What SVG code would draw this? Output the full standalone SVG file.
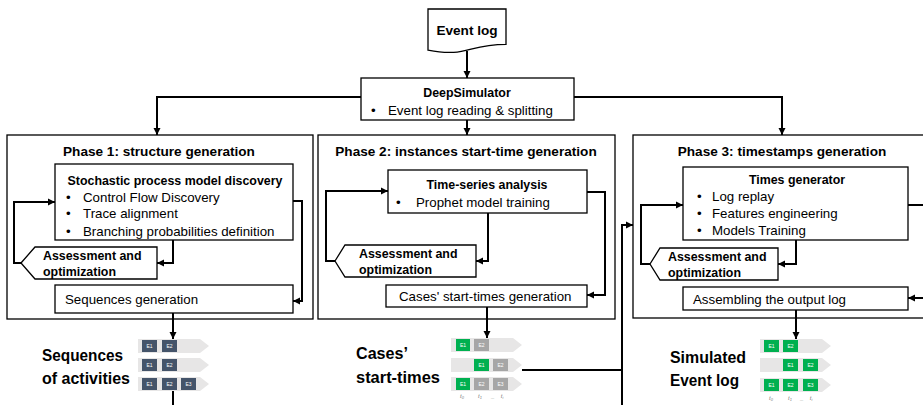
<svg xmlns="http://www.w3.org/2000/svg" xmlns:xlink="http://www.w3.org/1999/xlink" width="923" height="405" viewBox="0 0 923 405">
  <style>
    text { font-family: "Liberation Sans", Arial, sans-serif; fill: #000; }
    .box { fill: #fff; stroke: #000; stroke-width: 1.3; }
    .wire { fill: none; stroke: #000; stroke-width: 2; }
    .arr { marker-end: url(#ah); }
    .h1 { font-weight: bold; font-size: 13.6px; }
    .h2 { font-weight: bold; font-size: 12.4px; }
    .r { font-size: 13.3px; }
    .big { font-weight: bold; font-size: 17px; }
    .mid { text-anchor: middle; }
    .ev { font-size: 5px; fill: #fff; text-anchor: middle; }
    .tk { font-size: 6px; font-style: italic; fill: #7f7f7f; text-anchor: middle; }
    .bar { fill: #e7e6e6; }
    .blue { fill: #44546a; }
    .green { fill: #00b050; }
    .grey { fill: #a6a6a6; }
  </style>
  <defs>
    <marker id="ah" viewBox="0 0 10 10" refX="10" refY="5" markerWidth="3.6" markerHeight="3.6" orient="auto">
      <path d="M0,0L10,5L0,10Z" fill="#000"/>
    </marker>
    <path id="barshape" d="M0,0H62L71,7L62,14H0Z"/>
  </defs>

  <!-- input log -->
  <g id="event-log">
    <path class="box" d="M428,9H506V44.3C467,44.3 467,57.7 428,50.1Z"/>
    <text class="h1 mid" x="467" y="35">Event log</text>
  </g>

  <!-- orchestrator -->
  <g id="deepsimulator">
    <rect class="box" x="361" y="78" width="213" height="42"/>
    <text class="h2 mid" x="467" y="97">DeepSimulator</text>
    <text class="r" x="371" y="115">•</text>
    <text class="r" x="388" y="115">Event log reading &amp; splitting</text>
  </g>

  <!-- phase 1 -->
  <g id="phase1">
    <rect class="box" x="7" y="135" width="306" height="184"/>
    <text class="h1 mid" x="159" y="156">Phase 1: structure generation</text>
  </g>
  <g id="p1-discovery">
    <rect class="box" x="55" y="164" width="238" height="76"/>
    <text class="h2 mid" x="175" y="185">Stochastic process model discovery</text>
    <text class="r" x="66" y="202">•</text>
    <text class="r" x="83" y="202">Control Flow Discovery</text>
    <text class="r" x="66" y="218">•</text>
    <text class="r" x="83" y="218">Trace alignment</text>
    <text class="r" x="66" y="236">•</text>
    <text class="r" x="83" y="236">Branching probabilities definition</text>
  </g>
  <g id="p1-assessment">
    <path class="box" d="M21,263L35,247H157V279H35Z"/>
    <text class="h2" x="43" y="260">Assessment and</text>
    <text class="h2" x="43" y="276">optimization</text>
  </g>
  <g id="p1-sequences">
    <rect class="box" x="55" y="285" width="238" height="28"/>
    <text class="r" x="65" y="304">Sequences generation</text>
  </g>

  <!-- phase 2 -->
  <g id="phase2">
    <rect class="box" x="318" y="135" width="297" height="184"/>
    <text class="h1 mid" x="466" y="156">Phase 2: instances start-time generation</text>
  </g>
  <g id="p2-timeseries">
    <rect class="box" x="388" y="170" width="199" height="43"/>
    <text class="h2 mid" x="487" y="189">Time-series analysis</text>
    <text class="r" x="396" y="207">•</text>
    <text class="r" x="416" y="207">Prophet model training</text>
  </g>
  <g id="p2-assessment">
    <path class="box" d="M335,261L345,245H476V277H345Z"/>
    <text class="h2" x="359" y="258">Assessment and</text>
    <text class="h2" x="359" y="274">optimization</text>
  </g>
  <g id="p2-starttimes">
    <rect class="box" x="386" y="285" width="201" height="22"/>
    <text class="r" x="399" y="301">Cases' start-times generation</text>
  </g>

  <!-- phase 3 -->
  <g id="phase3">
    <rect class="box" x="633" y="135" width="300" height="183"/>
    <text class="h1 mid" x="782" y="156">Phase 3: timestamps generation</text>
  </g>
  <g id="p3-times">
    <rect class="box" x="683" y="167" width="225" height="73"/>
    <text class="h2 mid" x="797" y="184">Times generator</text>
    <text class="r" x="697" y="201">•</text>
    <text class="r" x="712" y="201">Log replay</text>
    <text class="r" x="697" y="218">•</text>
    <text class="r" x="712" y="218">Features engineering</text>
    <text class="r" x="697" y="235">•</text>
    <text class="r" x="712" y="235">Models Training</text>
  </g>
  <g id="p3-assessment">
    <path class="box" d="M650,264L660,248H778V280H660Z"/>
    <text class="h2" x="668" y="261">Assessment and</text>
    <text class="h2" x="668" y="277">optimization</text>
  </g>
  <g id="p3-assembling">
    <rect class="box" x="683" y="287" width="225" height="23"/>
    <text class="r" x="693" y="304">Assembling the output log</text>
  </g>

  <!-- sequences of activities -->
  <g id="out-sequences">
    <text class="big" x="42" y="361" textLength="81" lengthAdjust="spacingAndGlyphs">Sequences</text>
    <text class="big" x="42" y="384" textLength="88" lengthAdjust="spacingAndGlyphs">of activities</text>
    <use xlink:href="#barshape" class="bar" x="138" y="339"/>
    <use xlink:href="#barshape" class="bar" x="138" y="358"/>
    <use xlink:href="#barshape" class="bar" x="138" y="377"/>
    <rect class="blue" x="142" y="340" width="15" height="12"/><text class="ev" x="149.5" y="348">E1</text>
    <rect class="blue" x="162" y="340" width="15" height="12"/><text class="ev" x="169.5" y="348">E2</text>
    <rect class="blue" x="142" y="359" width="15" height="12"/><text class="ev" x="149.5" y="367">E1</text>
    <rect class="blue" x="162" y="359" width="15" height="12"/><text class="ev" x="169.5" y="367">E2</text>
    <rect class="blue" x="142" y="378" width="15" height="12"/><text class="ev" x="149.5" y="386">E1</text>
    <rect class="blue" x="162" y="378" width="15" height="12"/><text class="ev" x="169.5" y="386">E2</text>
    <rect class="blue" x="181" y="378" width="15" height="12"/><text class="ev" x="188.5" y="386">E3</text>
  </g>

  <!-- case start times -->
  <g id="out-starttimes">
    <text class="big" x="356" y="359" textLength="52" lengthAdjust="spacingAndGlyphs">Cases’</text>
    <text class="big" x="356" y="383" textLength="84" lengthAdjust="spacingAndGlyphs">start-times</text>
    <use xlink:href="#barshape" class="bar" x="451" y="338"/>
    <use xlink:href="#barshape" class="bar" x="451" y="358"/>
    <use xlink:href="#barshape" class="bar" x="451" y="377"/>
    <rect class="green" x="456" y="339" width="14" height="12"/><text class="ev" x="463" y="347">E1</text>
    <rect class="grey" x="474" y="339" width="15" height="12"/><text class="ev" x="481.5" y="347">E2</text>
    <rect class="green" x="474" y="359" width="15" height="12"/><text class="ev" x="481.5" y="367">E1</text>
    <rect class="grey" x="493" y="359" width="15" height="12"/><text class="ev" x="500.5" y="367">E2</text>
    <rect class="green" x="456" y="378" width="14" height="12"/><text class="ev" x="463" y="386">E1</text>
    <rect class="grey" x="474" y="378" width="15" height="12"/><text class="ev" x="481.5" y="386">E2</text>
    <rect class="grey" x="493" y="378" width="15" height="12"/><text class="ev" x="500.5" y="386">E3</text>
    <text class="tk" x="462" y="398">t<tspan font-size="4" dy="1">0</tspan></text>
    <text class="tk" x="480" y="398">t<tspan font-size="4" dy="1">1</tspan></text>
    <text class="tk" x="493" y="398">_</text>
    <text class="tk" x="502" y="398">t<tspan font-size="4" dy="1">i</tspan></text>
  </g>

  <!-- simulated log -->
  <g id="out-simulated">
    <text class="big" x="670" y="363" textLength="76" lengthAdjust="spacingAndGlyphs">Simulated</text>
    <text class="big" x="670" y="386" textLength="69" lengthAdjust="spacingAndGlyphs">Event log</text>
    <use xlink:href="#barshape" class="bar" x="760" y="339"/>
    <use xlink:href="#barshape" class="bar" x="760" y="358"/>
    <use xlink:href="#barshape" class="bar" x="760" y="378"/>
    <rect class="green" x="764" y="340" width="15" height="12"/><text class="ev" x="771.5" y="348">E1</text>
    <rect class="green" x="783" y="340" width="15" height="12"/><text class="ev" x="790.5" y="348">E2</text>
    <rect class="green" x="783" y="359" width="15" height="12"/><text class="ev" x="790.5" y="367">E1</text>
    <rect class="green" x="803" y="359" width="15" height="12"/><text class="ev" x="810.5" y="367">E2</text>
    <rect class="green" x="764" y="379" width="15" height="12"/><text class="ev" x="771.5" y="387">E1</text>
    <rect class="green" x="783" y="379" width="15" height="12"/><text class="ev" x="790.5" y="387">E2</text>
    <rect class="green" x="803" y="379" width="15" height="12"/><text class="ev" x="810.5" y="387">E3</text>
    <text class="tk" x="771" y="400">t<tspan font-size="4" dy="1">0</tspan></text>
    <text class="tk" x="790" y="400">t<tspan font-size="4" dy="1">1</tspan></text>
    <text class="tk" x="802" y="400">_</text>
    <text class="tk" x="811" y="400">t<tspan font-size="4" dy="1">i</tspan></text>
  </g>

  <!-- connectors -->
  <g id="connectors">
    <path class="wire arr" d="M467,51V78"/>
    <path class="wire arr" d="M361,97H157V135"/>
    <path class="wire arr" d="M467,120V135"/>
    <path class="wire arr" d="M574,97H782V135"/>

    <path class="wire arr" d="M21,263H14V202H55"/>
    <path class="wire arr" d="M173,240V263H157"/>
    <path class="wire arr" d="M293,201H302V301H293"/>
    <path class="wire arr" d="M173,313V339"/>
    <path class="wire" d="M173,391V405"/>

    <path class="wire arr" d="M335,261H326V191H388"/>
    <path class="wire arr" d="M488,213V261H476"/>
    <path class="wire arr" d="M587,192H605V295H587"/>
    <path class="wire arr" d="M487,307V338"/>
    <path class="wire" d="M522,370H622"/>
    <path class="wire arr" d="M622,405V225H633"/>

    <path class="wire arr" d="M650,264H641V205H683"/>
    <path class="wire arr" d="M796,240V264H778"/>
    <path class="wire arr" d="M908,205H930V298H908"/>
    <path class="wire arr" d="M796,310V339"/>
  </g>
</svg>
